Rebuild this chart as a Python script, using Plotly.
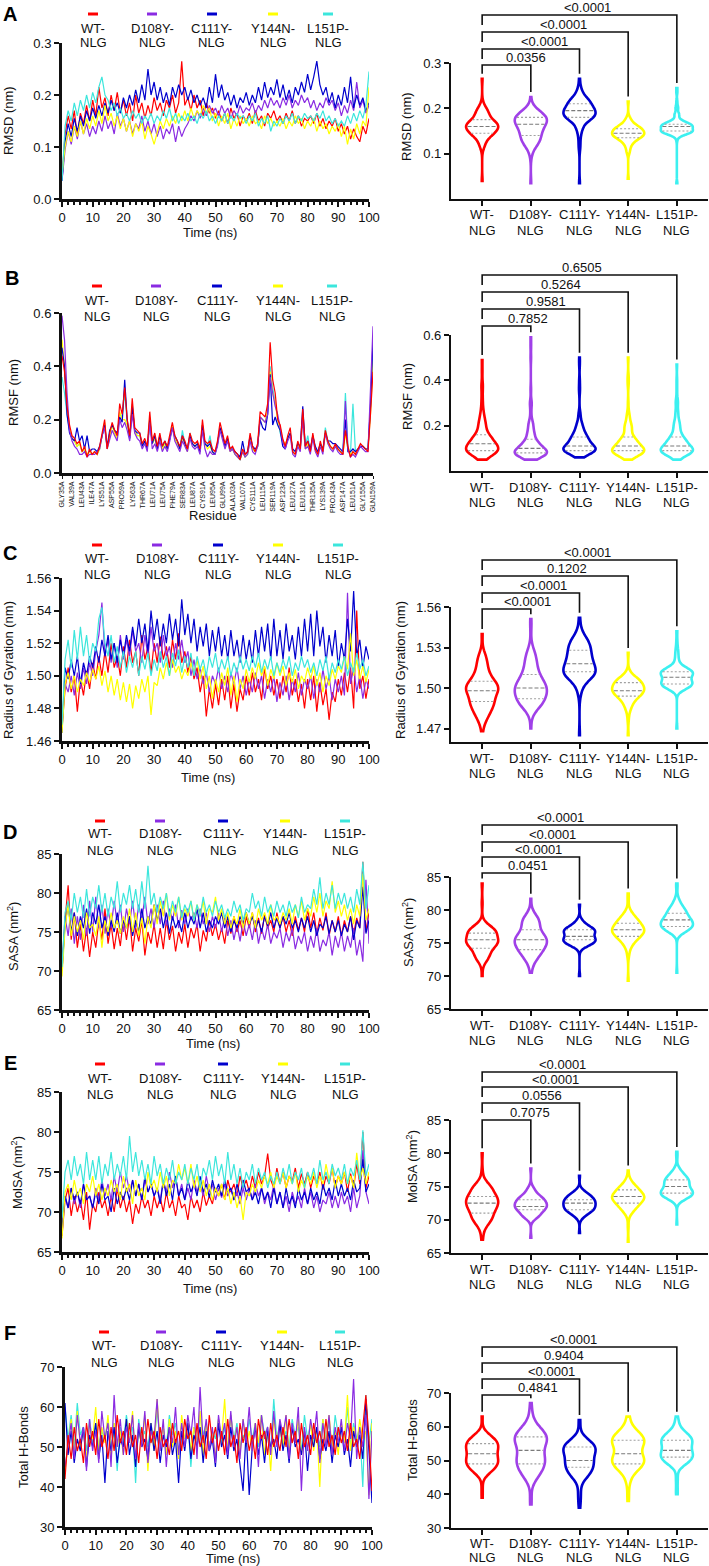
import numpy as np
import plotly.graph_objects as go

W, H = 709, 1566
FONT = "Liberation Sans, Arial, Helvetica, sans-serif"

groups = ["WT-NLG", "D108Y-NLG", "C111Y-NLG", "Y144N-NLG", "L151P-NLG"]
group_line1 = ["WT-", "D108Y-", "C111Y-", "Y144N-", "L151P-"]
group_line2 = ["NLG", "NLG", "NLG", "NLG", "NLG"]
line_colors = ["#FF0000", "#8A2BE2", "#0000CD", "#FFFF00", "#3CE6DC"]
violin_colors = ["#FF0000", "#A040E8", "#0000CD", "#FFFF00", "#3CF0F0"]

time_ns = list(range(0, 101))
residue_no = list(range(35, 160))
residue_tick_no = list(range(35, 160, 4))
residue_tick_labels = ["GLY35A", "VAL39A", "LEU43A", "ILE47A", "LYS51A", "ASP55A", "PRO59A", "LYS63A",
                       "THR67A", "LEU71A", "LEU75A", "PHE79A", "SER83A", "LEU87A", "CYS91A", "LEU95A",
                       "GLU99A", "ALA103A", "VAL107A", "CYS111A", "LEU115A", "SER119A", "ASP123A", "LEU127A",
                       "LEU131A", "THR135A", "LYS139A", "PRO143A", "ASP147A", "LEU151A", "GLY155A", "GLN159A"]

# ---------------- A: RMSD (nm) ----------------
rmsd_wt = [0.040,
    0.125, 0.160, 0.135, 0.170, 0.120, 0.165, 0.145, 0.180, 0.150, 0.190,
    0.160, 0.215, 0.175, 0.195, 0.160, 0.200, 0.170, 0.205, 0.165, 0.190,
    0.160, 0.185, 0.150, 0.200, 0.165, 0.185, 0.155, 0.180, 0.160, 0.195,
    0.170, 0.185, 0.160, 0.190, 0.175, 0.200, 0.165, 0.185, 0.265, 0.180,
    0.195, 0.170, 0.200, 0.175, 0.190, 0.160, 0.185, 0.165, 0.175, 0.155,
    0.170, 0.150, 0.165, 0.145, 0.175, 0.155, 0.165, 0.140, 0.160, 0.150,
    0.165, 0.145, 0.170, 0.150, 0.160, 0.140, 0.165, 0.155, 0.170, 0.150,
    0.160, 0.145, 0.165, 0.150, 0.170, 0.145, 0.160, 0.140, 0.155, 0.150,
    0.160, 0.145, 0.165, 0.140, 0.155, 0.135, 0.150, 0.140, 0.155, 0.130,
    0.145, 0.125, 0.140, 0.115, 0.135, 0.120, 0.110, 0.140, 0.125, 0.155]
rmsd_d108y = [0.035,
    0.095, 0.130, 0.105, 0.140, 0.115, 0.150, 0.125, 0.145, 0.120, 0.140,
    0.125, 0.150, 0.130, 0.160, 0.135, 0.150, 0.125, 0.165, 0.140, 0.155,
    0.130, 0.150, 0.125, 0.145, 0.135, 0.160, 0.130, 0.150, 0.125, 0.145,
    0.120, 0.140, 0.115, 0.135, 0.125, 0.145, 0.110, 0.140, 0.120, 0.135,
    0.145, 0.160, 0.150, 0.170, 0.155, 0.175, 0.160, 0.180, 0.165, 0.175,
    0.160, 0.180, 0.165, 0.175, 0.155, 0.170, 0.160, 0.180, 0.165, 0.175,
    0.170, 0.185, 0.165, 0.180, 0.170, 0.190, 0.175, 0.195, 0.180, 0.190,
    0.175, 0.195, 0.180, 0.200, 0.175, 0.190, 0.180, 0.200, 0.185, 0.195,
    0.175, 0.190, 0.170, 0.185, 0.175, 0.195, 0.180, 0.190, 0.170, 0.185,
    0.160, 0.180, 0.165, 0.190, 0.170, 0.225, 0.175, 0.190, 0.165, 0.180]
rmsd_c111y = [0.035,
    0.110, 0.145, 0.120, 0.155, 0.130, 0.160, 0.140, 0.170, 0.150, 0.175,
    0.155, 0.180, 0.160, 0.185, 0.165, 0.190, 0.170, 0.185, 0.165, 0.195,
    0.175, 0.200, 0.180, 0.210, 0.185, 0.220, 0.190, 0.250, 0.200, 0.225,
    0.190, 0.215, 0.185, 0.205, 0.180, 0.215, 0.195, 0.220, 0.200, 0.215,
    0.190, 0.210, 0.185, 0.200, 0.180, 0.195, 0.175, 0.215, 0.185, 0.240,
    0.195, 0.220, 0.190, 0.205, 0.180, 0.200, 0.175, 0.195, 0.185, 0.205,
    0.180, 0.200, 0.185, 0.215, 0.190, 0.225, 0.195, 0.215, 0.200, 0.230,
    0.195, 0.220, 0.190, 0.210, 0.185, 0.215, 0.200, 0.225, 0.205, 0.240,
    0.210, 0.235, 0.265, 0.220, 0.200, 0.215, 0.185, 0.205, 0.175, 0.200,
    0.180, 0.215, 0.185, 0.235, 0.175, 0.200, 0.180, 0.195, 0.170, 0.185]
rmsd_y144n = [0.045,
    0.100, 0.130, 0.110, 0.140, 0.120, 0.150, 0.125, 0.155, 0.135, 0.160,
    0.140, 0.170, 0.145, 0.180, 0.150, 0.165, 0.140, 0.160, 0.135, 0.155,
    0.130, 0.150, 0.120, 0.145, 0.130, 0.150, 0.115, 0.140, 0.125, 0.105,
    0.130, 0.150, 0.135, 0.155, 0.140, 0.160, 0.145, 0.165, 0.150, 0.170,
    0.150, 0.175, 0.155, 0.170, 0.160, 0.180, 0.165, 0.175, 0.150, 0.165,
    0.140, 0.160, 0.145, 0.165, 0.135, 0.155, 0.140, 0.160, 0.145, 0.155,
    0.140, 0.160, 0.145, 0.150, 0.135, 0.160, 0.145, 0.155, 0.140, 0.150,
    0.140, 0.155, 0.135, 0.150, 0.140, 0.160, 0.145, 0.155, 0.135, 0.150,
    0.140, 0.155, 0.130, 0.150, 0.135, 0.145, 0.125, 0.140, 0.130, 0.145,
    0.120, 0.140, 0.105, 0.135, 0.115, 0.145, 0.125, 0.150, 0.140, 0.215]
rmsd_l151p = [0.035,
    0.140, 0.170, 0.150, 0.185, 0.160, 0.190, 0.170, 0.200, 0.175, 0.205,
    0.185, 0.215, 0.235, 0.200, 0.190, 0.170, 0.185, 0.160, 0.175, 0.155,
    0.165, 0.150, 0.170, 0.155, 0.165, 0.145, 0.160, 0.150, 0.165, 0.145,
    0.160, 0.150, 0.170, 0.155, 0.175, 0.150, 0.165, 0.145, 0.160, 0.150,
    0.165, 0.150, 0.160, 0.145, 0.165, 0.155, 0.170, 0.150, 0.160, 0.145,
    0.160, 0.150, 0.165, 0.145, 0.160, 0.150, 0.165, 0.155, 0.160, 0.145,
    0.160, 0.150, 0.165, 0.140, 0.155, 0.145, 0.160, 0.130, 0.150, 0.140,
    0.155, 0.145, 0.160, 0.150, 0.165, 0.145, 0.160, 0.150, 0.165, 0.155,
    0.160, 0.150, 0.165, 0.155, 0.170, 0.150, 0.160, 0.145, 0.155, 0.140,
    0.150, 0.140, 0.160, 0.145, 0.165, 0.150, 0.170, 0.155, 0.180, 0.245]

# ---------------- B: RMSF (nm), residues 35-159 ----------------
rmsf_wt = [0.44, 0.38, 0.25, 0.18, 0.14, 0.13, 0.11, 0.12, 0.08, 0.10,
    0.06, 0.09, 0.07, 0.08, 0.07, 0.10, 0.15, 0.20, 0.09, 0.15,
    0.19, 0.16, 0.14, 0.26, 0.22, 0.32, 0.20, 0.14, 0.28, 0.17,
    0.16, 0.15, 0.11, 0.13, 0.10, 0.23, 0.12, 0.15, 0.10, 0.15,
    0.10, 0.12, 0.10, 0.14, 0.19, 0.14, 0.12, 0.10, 0.14, 0.12,
    0.09, 0.15, 0.12, 0.11, 0.12, 0.09, 0.20, 0.12, 0.11, 0.12,
    0.09, 0.08, 0.12, 0.19, 0.15, 0.11, 0.14, 0.09, 0.10, 0.08,
    0.07, 0.05, 0.09, 0.07, 0.08, 0.15, 0.10, 0.08, 0.11, 0.23,
    0.22, 0.21, 0.26, 0.49, 0.35, 0.30, 0.20, 0.18, 0.13, 0.10,
    0.14, 0.17, 0.08, 0.07, 0.12, 0.09, 0.24, 0.10, 0.12, 0.08,
    0.15, 0.09, 0.07, 0.12, 0.08, 0.16, 0.12, 0.10, 0.09, 0.11,
    0.09, 0.08, 0.07, 0.16, 0.10, 0.06, 0.08, 0.07, 0.09, 0.11,
    0.10, 0.09, 0.08, 0.22, 0.38]
rmsf_d108y = [0.59, 0.50, 0.30, 0.16, 0.12, 0.10, 0.09, 0.07, 0.07, 0.08,
    0.06, 0.07, 0.07, 0.07, 0.08, 0.09, 0.14, 0.17, 0.09, 0.13,
    0.16, 0.14, 0.12, 0.20, 0.17, 0.19, 0.16, 0.12, 0.22, 0.15,
    0.13, 0.12, 0.09, 0.11, 0.08, 0.19, 0.09, 0.11, 0.08, 0.12,
    0.08, 0.10, 0.08, 0.12, 0.17, 0.12, 0.10, 0.08, 0.12, 0.10,
    0.08, 0.13, 0.10, 0.09, 0.10, 0.07, 0.16, 0.09, 0.06, 0.08,
    0.07, 0.07, 0.10, 0.16, 0.12, 0.09, 0.12, 0.08, 0.09, 0.07,
    0.06, 0.05, 0.08, 0.06, 0.07, 0.12, 0.08, 0.07, 0.10, 0.21,
    0.20, 0.19, 0.22, 0.36, 0.30, 0.25, 0.22, 0.17, 0.12, 0.09,
    0.12, 0.14, 0.07, 0.06, 0.10, 0.08, 0.20, 0.09, 0.10, 0.07,
    0.13, 0.08, 0.06, 0.10, 0.07, 0.15, 0.11, 0.09, 0.08, 0.10,
    0.08, 0.07, 0.07, 0.27, 0.09, 0.06, 0.07, 0.06, 0.08, 0.10,
    0.09, 0.08, 0.08, 0.30, 0.55]
rmsf_c111y = [0.47, 0.40, 0.22, 0.15, 0.13, 0.12, 0.17, 0.12, 0.14, 0.09,
    0.14, 0.08, 0.09, 0.09, 0.08, 0.10, 0.14, 0.18, 0.10, 0.16,
    0.18, 0.16, 0.15, 0.21, 0.19, 0.35, 0.20, 0.13, 0.25, 0.16,
    0.15, 0.15, 0.10, 0.12, 0.09, 0.20, 0.11, 0.14, 0.09, 0.14,
    0.10, 0.12, 0.09, 0.13, 0.17, 0.14, 0.12, 0.09, 0.14, 0.11,
    0.09, 0.14, 0.11, 0.10, 0.11, 0.08, 0.18, 0.11, 0.10, 0.11,
    0.08, 0.07, 0.11, 0.17, 0.14, 0.10, 0.13, 0.09, 0.09, 0.08,
    0.07, 0.06, 0.12, 0.07, 0.08, 0.14, 0.10, 0.09, 0.10, 0.20,
    0.17, 0.16, 0.22, 0.37, 0.18, 0.21, 0.18, 0.16, 0.10, 0.09,
    0.13, 0.15, 0.09, 0.08, 0.11, 0.10, 0.25, 0.10, 0.12, 0.09,
    0.14, 0.10, 0.08, 0.11, 0.09, 0.15, 0.12, 0.12, 0.11, 0.11,
    0.10, 0.09, 0.08, 0.20, 0.08, 0.08, 0.09, 0.08, 0.09, 0.10,
    0.10, 0.09, 0.09, 0.25, 0.50]
rmsf_y144n = [0.50, 0.40, 0.24, 0.17, 0.13, 0.12, 0.10, 0.11, 0.08, 0.09,
    0.07, 0.08, 0.07, 0.08, 0.07, 0.09, 0.14, 0.19, 0.09, 0.14,
    0.18, 0.15, 0.13, 0.23, 0.20, 0.20, 0.18, 0.13, 0.25, 0.16,
    0.14, 0.14, 0.10, 0.12, 0.09, 0.21, 0.11, 0.13, 0.09, 0.13,
    0.09, 0.11, 0.09, 0.13, 0.18, 0.13, 0.11, 0.09, 0.13, 0.11,
    0.08, 0.14, 0.11, 0.10, 0.11, 0.08, 0.18, 0.11, 0.09, 0.10,
    0.08, 0.07, 0.11, 0.17, 0.14, 0.10, 0.13, 0.08, 0.09, 0.07,
    0.06, 0.05, 0.08, 0.06, 0.07, 0.13, 0.09, 0.08, 0.10, 0.21,
    0.20, 0.19, 0.24, 0.38, 0.30, 0.26, 0.20, 0.16, 0.12, 0.11,
    0.13, 0.15, 0.08, 0.07, 0.11, 0.09, 0.20, 0.09, 0.11, 0.08,
    0.14, 0.09, 0.07, 0.11, 0.08, 0.15, 0.11, 0.10, 0.09, 0.10,
    0.09, 0.08, 0.07, 0.15, 0.09, 0.07, 0.08, 0.07, 0.09, 0.10,
    0.10, 0.09, 0.09, 0.22, 0.42]
rmsf_l151p = [0.36, 0.30, 0.22, 0.16, 0.13, 0.12, 0.10, 0.11, 0.08, 0.09,
    0.07, 0.08, 0.07, 0.08, 0.07, 0.09, 0.14, 0.18, 0.09, 0.14,
    0.18, 0.15, 0.13, 0.22, 0.21, 0.30, 0.19, 0.13, 0.26, 0.16,
    0.14, 0.14, 0.10, 0.12, 0.09, 0.20, 0.11, 0.13, 0.10, 0.13,
    0.09, 0.12, 0.09, 0.13, 0.17, 0.13, 0.11, 0.09, 0.16, 0.11,
    0.09, 0.15, 0.11, 0.10, 0.11, 0.08, 0.18, 0.11, 0.10, 0.14,
    0.08, 0.07, 0.11, 0.17, 0.14, 0.10, 0.13, 0.09, 0.09, 0.07,
    0.06, 0.05, 0.08, 0.06, 0.07, 0.13, 0.09, 0.08, 0.10, 0.21,
    0.20, 0.19, 0.23, 0.40, 0.32, 0.26, 0.20, 0.15, 0.12, 0.10,
    0.13, 0.15, 0.08, 0.07, 0.11, 0.09, 0.22, 0.10, 0.14, 0.08,
    0.14, 0.09, 0.07, 0.11, 0.08, 0.17, 0.12, 0.10, 0.09, 0.10,
    0.09, 0.08, 0.08, 0.30, 0.10, 0.07, 0.26, 0.08, 0.09, 0.10,
    0.10, 0.09, 0.09, 0.25, 0.47]

# ---------------- C: Radius of gyration (nm) ----------------
rg_wt = [1.468,
    1.492, 1.505, 1.490, 1.500, 1.478, 1.498, 1.488, 1.503, 1.492, 1.508,
    1.498, 1.512, 1.500, 1.515, 1.502, 1.520, 1.505, 1.512, 1.500, 1.518,
    1.505, 1.522, 1.508, 1.515, 1.500, 1.525, 1.510, 1.518, 1.502, 1.520,
    1.508, 1.524, 1.510, 1.518, 1.505, 1.522, 1.510, 1.526, 1.508, 1.515,
    1.502, 1.512, 1.498, 1.505, 1.490, 1.500, 1.475, 1.492, 1.480, 1.495,
    1.482, 1.498, 1.485, 1.500, 1.480, 1.495, 1.478, 1.492, 1.485, 1.500,
    1.488, 1.502, 1.490, 1.498, 1.485, 1.505, 1.492, 1.500, 1.488, 1.498,
    1.486, 1.500, 1.490, 1.505, 1.488, 1.498, 1.484, 1.495, 1.480, 1.498,
    1.485, 1.500, 1.478, 1.496, 1.482, 1.492, 1.473, 1.490, 1.484, 1.498,
    1.488, 1.502, 1.490, 1.505, 1.480, 1.540, 1.492, 1.500, 1.486, 1.498]
rg_d108y = [1.470,
    1.495, 1.490, 1.500, 1.488, 1.502, 1.492, 1.505, 1.495, 1.508, 1.500,
    1.515, 1.525, 1.545, 1.512, 1.522, 1.508, 1.520, 1.505, 1.525, 1.510,
    1.522, 1.512, 1.528, 1.515, 1.520, 1.508, 1.525, 1.512, 1.530, 1.515,
    1.520, 1.508, 1.525, 1.512, 1.518, 1.505, 1.520, 1.510, 1.522, 1.508,
    1.515, 1.500, 1.510, 1.498, 1.505, 1.495, 1.502, 1.490, 1.500, 1.495,
    1.505, 1.492, 1.500, 1.490, 1.502, 1.495, 1.505, 1.492, 1.500, 1.488,
    1.498, 1.490, 1.502, 1.492, 1.500, 1.486, 1.498, 1.490, 1.500, 1.484,
    1.496, 1.488, 1.500, 1.485, 1.498, 1.490, 1.502, 1.488, 1.498, 1.492,
    1.500, 1.486, 1.498, 1.490, 1.504, 1.492, 1.500, 1.485, 1.498, 1.490,
    1.500, 1.488, 1.551, 1.495, 1.505, 1.490, 1.500, 1.486, 1.498, 1.492]
rg_c111y = [1.465,
    1.505, 1.498, 1.510, 1.500, 1.512, 1.495, 1.508, 1.500, 1.512, 1.505,
    1.518, 1.508, 1.522, 1.512, 1.525, 1.510, 1.520, 1.508, 1.522, 1.512,
    1.525, 1.515, 1.530, 1.518, 1.535, 1.520, 1.532, 1.515, 1.540, 1.522,
    1.535, 1.518, 1.532, 1.520, 1.538, 1.522, 1.535, 1.518, 1.547, 1.525,
    1.538, 1.520, 1.535, 1.515, 1.530, 1.518, 1.532, 1.512, 1.528, 1.515,
    1.530, 1.512, 1.525, 1.510, 1.528, 1.512, 1.522, 1.508, 1.525, 1.510,
    1.522, 1.508, 1.528, 1.512, 1.530, 1.515, 1.532, 1.510, 1.535, 1.512,
    1.528, 1.510, 1.532, 1.515, 1.525, 1.510, 1.530, 1.512, 1.535, 1.515,
    1.538, 1.512, 1.540, 1.518, 1.530, 1.508, 1.525, 1.512, 1.528, 1.505,
    1.520, 1.510, 1.535, 1.515, 1.552, 1.512, 1.522, 1.505, 1.518, 1.510]
rg_y144n = [1.465,
    1.495, 1.502, 1.492, 1.500, 1.490, 1.498, 1.494, 1.502, 1.496, 1.504,
    1.498, 1.506, 1.494, 1.503, 1.490, 1.500, 1.488, 1.498, 1.485, 1.496,
    1.484, 1.495, 1.480, 1.494, 1.486, 1.498, 1.490, 1.500, 1.476, 1.496,
    1.494, 1.505, 1.498, 1.508, 1.500, 1.510, 1.502, 1.506, 1.498, 1.504,
    1.500, 1.508, 1.502, 1.510, 1.498, 1.506, 1.492, 1.500, 1.486, 1.498,
    1.490, 1.502, 1.494, 1.505, 1.488, 1.500, 1.484, 1.498, 1.492, 1.504,
    1.496, 1.505, 1.498, 1.508, 1.500, 1.506, 1.494, 1.504, 1.498, 1.508,
    1.500, 1.506, 1.494, 1.502, 1.496, 1.504, 1.492, 1.500, 1.496, 1.505,
    1.498, 1.506, 1.494, 1.502, 1.490, 1.500, 1.494, 1.504, 1.498, 1.506,
    1.502, 1.512, 1.504, 1.526, 1.500, 1.510, 1.498, 1.506, 1.496, 1.504]
rg_l151p = [1.470,
    1.510, 1.522, 1.505, 1.528, 1.510, 1.530, 1.512, 1.525, 1.508, 1.520,
    1.515, 1.535, 1.542, 1.520, 1.512, 1.525, 1.508, 1.518, 1.505, 1.515,
    1.502, 1.512, 1.505, 1.515, 1.500, 1.512, 1.504, 1.514, 1.500, 1.510,
    1.503, 1.515, 1.505, 1.512, 1.500, 1.514, 1.506, 1.516, 1.502, 1.512,
    1.505, 1.514, 1.500, 1.512, 1.504, 1.510, 1.500, 1.512, 1.505, 1.514,
    1.502, 1.510, 1.504, 1.512, 1.500, 1.508, 1.502, 1.512, 1.504, 1.510,
    1.503, 1.512, 1.505, 1.514, 1.502, 1.510, 1.504, 1.512, 1.500, 1.508,
    1.502, 1.510, 1.504, 1.512, 1.500, 1.508, 1.503, 1.512, 1.505, 1.510,
    1.502, 1.508, 1.500, 1.510, 1.503, 1.512, 1.498, 1.508, 1.502, 1.510,
    1.504, 1.512, 1.500, 1.508, 1.502, 1.514, 1.504, 1.510, 1.500, 1.506]

# ---------------- D: SASA (nm^2) ----------------
sasa_wt = [70.0,
    76.5, 81.0, 74.0, 77.5, 73.0, 76.0, 72.5, 75.5, 71.8, 75.0,
    73.0, 76.5, 74.0, 78.0, 73.5, 76.0, 72.8, 75.5, 73.2, 76.8,
    74.0, 77.0, 72.5, 75.5, 73.8, 76.5, 72.0, 75.0, 73.5, 76.0,
    73.0, 75.5, 72.8, 76.5, 74.0, 75.8, 72.5, 75.0, 73.5, 76.0,
    73.0, 75.5, 74.2, 76.0, 72.5, 75.2, 73.8, 76.5, 74.5, 76.0,
    74.0, 75.5, 73.5, 76.5, 74.8, 77.0, 75.0, 76.5, 74.5, 77.0,
    75.5, 77.5, 75.0, 76.8, 74.8, 77.2, 75.5, 76.5, 75.0, 77.5,
    75.5, 77.0, 75.0, 76.5, 74.5, 77.0, 75.2, 76.8, 75.0, 78.0,
    75.5, 77.5, 74.8, 76.8, 75.2, 77.5, 74.5, 76.5, 75.0, 77.0,
    74.5, 76.5, 75.0, 77.0, 74.8, 76.8, 75.5, 84.0, 75.0, 77.5]
sasa_d108y = [70.5,
    77.0, 74.5, 78.0, 73.5, 77.0, 74.0, 78.5, 74.5, 79.0, 75.0,
    79.5, 75.5, 78.5, 74.8, 78.0, 75.5, 79.0, 76.0, 78.5, 75.0,
    78.0, 76.0, 79.0, 75.5, 78.5, 76.5, 79.5, 76.0, 78.0, 75.5,
    78.5, 76.0, 79.0, 75.8, 78.0, 76.5, 78.5, 75.5, 77.8, 76.0,
    78.0, 76.5, 77.5, 75.5, 78.0, 76.0, 77.5, 75.0, 77.0, 75.5,
    77.5, 75.0, 77.0, 74.5, 76.5, 74.0, 76.0, 73.8, 76.5, 74.5,
    76.0, 74.0, 76.5, 73.5, 75.5, 74.0, 76.0, 73.5, 75.0, 74.2,
    75.5, 73.0, 75.0, 73.8, 75.5, 72.8, 74.5, 73.5, 75.0, 72.5,
    74.5, 73.0, 75.5, 72.5, 74.0, 73.2, 75.0, 72.0, 74.5, 73.0,
    75.0, 72.5, 74.5, 73.0, 75.5, 72.0, 74.0, 71.2, 81.7, 73.5]
sasa_c111y = [70.0,
    76.0, 78.5, 75.0, 77.5, 74.5, 77.0, 75.5, 78.0, 74.8, 77.5,
    76.0, 78.5, 75.5, 77.0, 74.5, 76.5, 75.0, 77.5, 74.8, 76.5,
    75.5, 77.0, 74.5, 76.5, 75.0, 78.0, 75.5, 77.0, 76.0, 78.5,
    76.5, 78.0, 75.5, 77.5, 74.8, 77.0, 75.5, 76.5, 75.0, 77.5,
    75.5, 77.0, 76.0, 78.0, 75.5, 77.5, 75.0, 76.5, 75.5, 77.0,
    76.0, 77.5, 75.5, 77.0, 75.0, 76.5, 75.5, 77.0, 76.0, 77.5,
    76.0, 77.0, 75.5, 76.5, 75.0, 77.0, 75.8, 77.5, 75.5, 76.8,
    75.5, 77.0, 76.0, 77.5, 75.5, 76.5, 75.0, 76.8, 75.5, 77.0,
    75.0, 76.5, 74.5, 76.0, 75.5, 77.0, 74.8, 76.5, 75.0, 76.5,
    74.5, 76.0, 75.0, 77.0, 74.0, 76.5, 75.5, 80.8, 74.8, 76.5]
sasa_y144n = [69.3,
    75.5, 78.5, 74.5, 77.0, 75.0, 76.5, 74.0, 77.5, 75.5, 76.0,
    74.5, 77.0, 73.0, 76.5, 75.0, 77.5, 75.5, 76.5, 74.8, 77.0,
    75.5, 78.0, 75.0, 77.5, 74.5, 76.8, 73.5, 77.0, 75.5, 78.5,
    76.0, 79.0, 77.0, 80.0, 76.5, 78.5, 77.0, 79.5, 76.5, 78.0,
    77.0, 79.0, 76.5, 78.5, 77.0, 79.0, 76.0, 78.0, 77.5, 79.5,
    76.5, 78.0, 76.0, 77.5, 75.5, 77.0, 76.0, 78.0, 75.5, 77.5,
    76.0, 77.5, 75.5, 78.0, 76.5, 77.5, 76.0, 78.5, 76.5, 77.0,
    76.0, 77.5, 76.5, 78.0, 76.0, 78.5, 77.0, 79.0, 76.5, 78.0,
    77.0, 79.5, 77.5, 80.0, 77.0, 79.0, 78.0, 81.5, 77.5, 79.0,
    77.0, 78.5, 76.5, 78.0, 76.0, 78.5, 77.0, 82.5, 76.5, 78.0]
sasa_l151p = [70.5,
    77.5, 79.0, 76.5, 80.0, 77.5, 79.5, 76.8, 80.5, 77.0, 79.5,
    78.0, 81.0, 77.5, 80.0, 77.0, 79.5, 78.0, 81.5, 77.5, 80.0,
    78.5, 81.0, 78.0, 80.5, 77.5, 81.5, 78.0, 83.5, 78.5, 80.0,
    77.5, 79.5, 78.0, 80.0, 77.0, 79.0, 77.5, 79.5, 76.8, 78.5,
    77.5, 79.0, 76.5, 78.5, 77.0, 79.5, 77.5, 78.5, 77.0, 79.0,
    77.5, 78.5, 76.8, 78.0, 77.0, 79.0, 77.5, 78.5, 76.5, 78.0,
    77.5, 80.0, 78.0, 79.0, 77.0, 79.5, 77.5, 78.5, 77.0, 79.0,
    77.5, 78.5, 77.0, 79.0, 77.5, 78.5, 76.8, 79.5, 77.5, 78.5,
    78.0, 80.5, 78.5, 82.0, 78.0, 80.0, 78.5, 81.0, 78.0, 80.0,
    78.5, 80.0, 78.0, 79.5, 77.5, 80.5, 78.5, 84.0, 78.0, 81.0]

# ---------------- E: MolSA (nm^2) ----------------
molsa_wt = [67.0,
    71.5, 73.0, 69.5, 72.0, 70.0, 71.5, 69.0, 72.5, 67.8, 71.0,
    70.0, 72.5, 70.5, 71.5, 69.5, 72.0, 70.0, 73.0, 70.5, 72.0,
    70.0, 71.5, 68.5, 71.0, 69.8, 72.0, 70.5, 71.5, 69.5, 72.0,
    70.5, 71.8, 70.0, 72.5, 70.5, 71.5, 69.5, 72.0, 70.5, 71.0,
    69.0, 72.0, 70.5, 71.5, 70.0, 72.5, 70.8, 72.0, 71.0, 73.0,
    72.0, 73.5, 71.5, 74.0, 72.5, 73.5, 72.0, 74.5, 73.0, 74.0,
    72.5, 74.5, 73.0, 75.0, 73.5, 74.5, 77.3, 74.0, 73.0, 75.5,
    73.5, 75.0, 73.0, 74.5, 73.8, 75.5, 73.0, 74.8, 73.5, 75.0,
    73.0, 74.5, 73.5, 75.0, 72.8, 74.5, 73.5, 75.5, 73.0, 74.5,
    73.5, 75.0, 72.5, 74.8, 73.0, 76.0, 73.5, 80.0, 73.0, 74.5]
molsa_d108y = [67.3,
    72.0, 70.5, 73.0, 71.0, 72.5, 70.5, 73.5, 71.5, 72.0, 70.5,
    73.0, 71.5, 74.0, 72.0, 73.5, 71.5, 74.5, 72.5, 75.0, 73.0,
    74.5, 72.5, 74.0, 72.0, 73.5, 71.5, 74.0, 72.5, 73.5, 72.0,
    73.0, 71.5, 74.0, 72.5, 75.0, 73.0, 74.5, 72.0, 73.5, 71.5,
    73.0, 71.5, 74.0, 72.5, 73.5, 72.0, 74.5, 72.5, 73.5, 71.5,
    73.0, 71.8, 73.5, 72.0, 73.0, 71.5, 72.5, 71.0, 73.0, 71.5,
    73.0, 71.5, 73.5, 72.0, 73.0, 71.0, 72.5, 71.5, 73.5, 71.0,
    72.5, 70.5, 72.0, 70.0, 72.5, 71.0, 72.0, 70.5, 73.0, 71.0,
    72.5, 70.5, 72.0, 70.0, 71.5, 71.0, 72.5, 70.5, 72.0, 70.5,
    72.5, 71.0, 72.0, 70.0, 73.0, 70.5, 72.0, 77.7, 72.5, 71.0]
molsa_c111y = [68.0,
    72.0, 70.5, 73.0, 71.5, 72.5, 71.0, 73.5, 71.5, 72.0, 70.5,
    72.5, 71.0, 73.5, 71.5, 72.0, 70.0, 73.0, 71.0, 72.5, 71.5,
    73.0, 71.5, 74.0, 72.0, 73.5, 71.5, 74.5, 72.5, 73.5, 72.0,
    73.0, 71.0, 74.0, 72.0, 73.5, 71.5, 74.5, 72.0, 73.0, 71.5,
    74.0, 72.5, 73.5, 72.0, 74.5, 72.5, 73.5, 71.8, 74.0, 72.5,
    73.5, 72.0, 74.0, 72.5, 73.0, 71.5, 73.5, 72.0, 74.0, 72.5,
    73.0, 71.5, 72.5, 71.0, 73.0, 71.5, 72.5, 70.5, 73.0, 71.0,
    72.5, 70.5, 73.0, 71.0, 72.0, 70.5, 73.0, 71.5, 72.5, 71.0,
    73.0, 71.5, 72.5, 71.0, 73.5, 72.0, 73.0, 71.5, 74.0, 72.0,
    73.5, 72.0, 73.0, 71.5, 74.0, 72.5, 73.0, 76.6, 72.5, 73.5]
molsa_y144n = [66.7,
    72.5, 73.5, 71.5, 74.0, 72.0, 73.0, 71.0, 73.5, 72.5, 74.5,
    72.0, 73.5, 71.5, 73.0, 72.0, 74.0, 72.5, 73.5, 71.5, 74.5,
    72.5, 73.5, 71.0, 74.0, 72.0, 73.0, 71.5, 75.0, 73.0, 74.0,
    72.5, 75.0, 73.0, 74.5, 72.0, 74.0, 73.5, 76.0, 74.0, 75.5,
    73.5, 76.0, 73.0, 74.5, 72.5, 74.0, 72.0, 73.5, 71.5, 73.0,
    72.0, 73.5, 71.5, 73.0, 71.0, 72.5, 70.5, 72.0, 69.0, 72.5,
    72.0, 73.5, 72.5, 74.0, 73.0, 74.5, 73.5, 75.0, 73.0, 74.5,
    73.5, 75.0, 73.0, 74.5, 73.5, 75.0, 72.5, 74.0, 73.0, 74.5,
    73.5, 75.0, 73.0, 74.5, 73.5, 76.0, 74.0, 75.5, 73.0, 74.5,
    73.5, 75.0, 73.5, 74.5, 73.0, 77.4, 74.0, 75.5, 73.5, 75.0]
molsa_l151p = [69.3,
    75.0, 76.5, 74.0, 77.0, 74.5, 76.0, 73.5, 77.5, 74.0, 76.5,
    74.0, 77.0, 73.5, 76.0, 74.5, 77.5, 74.0, 76.0, 74.5, 77.0,
    74.0, 79.5, 75.0, 77.5, 74.5, 76.5, 74.0, 76.0, 73.5, 77.0,
    74.5, 76.0, 73.5, 75.5, 74.0, 76.5, 73.5, 75.0, 74.0, 76.0,
    73.5, 75.5, 74.0, 76.0, 73.0, 75.5, 74.5, 76.5, 74.0, 77.0,
    74.5, 76.0, 73.5, 77.5, 74.0, 76.0, 73.5, 75.5, 73.0, 75.0,
    74.0, 76.0, 73.5, 75.5, 74.0, 75.0, 73.0, 74.5, 73.5, 75.0,
    73.5, 75.5, 74.0, 76.0, 73.5, 75.0, 74.0, 75.5, 73.0, 75.0,
    74.0, 75.5, 73.5, 76.5, 74.0, 75.0, 73.5, 76.0, 74.5, 75.5,
    74.0, 76.0, 73.5, 75.5, 74.5, 76.5, 74.0, 80.2, 74.5, 76.0]

# ---------------- F: Total H-bonds ----------------
hb_wt = [42,
    53, 47, 55, 49, 52, 46, 56, 50, 54, 48,
    57, 50, 53, 47, 55, 49, 58, 51, 54, 48,
    56, 50, 53, 46, 55, 49, 57, 51, 54, 47,
    55, 50, 52, 48, 56, 51, 54, 49, 57, 52,
    54, 48, 56, 50, 53, 47, 58, 51, 55, 49,
    54, 48, 57, 50, 53, 46, 56, 51, 55, 49,
    53, 47, 57, 52, 54, 48, 56, 50, 53, 49,
    55, 50, 57, 51, 54, 47, 56, 50, 53, 48,
    56, 51, 54, 49, 57, 50, 53, 48, 55, 51,
    54, 49, 56, 50, 52, 47, 55, 63, 52, 39]
hb_d108y = [45,
    50, 56, 47, 58, 51, 55, 44, 57, 49, 54,
    46, 59, 52, 56, 45, 63, 50, 57, 48, 55,
    51, 58, 47, 56, 50, 59, 46, 54, 52, 62,
    49, 57, 45, 55, 51, 60, 48, 56, 50, 58,
    53, 60, 47, 65, 51, 57, 49, 55, 46, 58,
    52, 56, 48, 59, 50, 55, 47, 57, 51, 60,
    49, 56, 45, 58, 52, 55, 48, 59, 50, 57,
    53, 58, 47, 56, 51, 60, 39, 55, 49, 57,
    52, 59, 46, 56, 50, 58, 48, 55, 51, 57,
    49, 56, 52, 67, 47, 55, 50, 58, 37, 54]
hb_c111y = [61,
    48, 54, 46, 52, 49, 55, 45, 53, 50, 56,
    47, 53, 41, 54, 49, 55, 46, 52, 50, 57,
    48, 53, 45, 55, 50, 52, 47, 56, 49, 54,
    46, 53, 50, 55, 48, 52, 41, 54, 49, 56,
    47, 53, 50, 55, 46, 54, 49, 52, 45, 56,
    50, 53, 47, 55, 49, 52, 46, 39, 54, 38,
    50, 55, 48, 53, 46, 54, 50, 52, 47, 56,
    49, 53, 46, 55, 50, 52, 48, 54, 44, 53,
    50, 55, 47, 52, 49, 54, 46, 53, 50, 55,
    48, 52, 45, 54, 50, 53, 47, 62, 49, 36]
hb_y144n = [44,
    51, 57, 48, 59, 50, 54, 47, 56, 52, 60,
    49, 55, 51, 58, 47, 56, 50, 54, 48, 57,
    51, 59, 46, 55, 50, 58, 44, 56, 49, 62,
    51, 55, 48, 57, 50, 54, 47, 58, 52, 56,
    49, 55, 51, 59, 48, 56, 50, 54, 47, 57,
    52, 62, 49, 58, 51, 55, 48, 57, 50, 54,
    49, 56, 51, 58, 48, 54, 44, 57, 52, 55,
    50, 58, 49, 55, 51, 57, 48, 54, 50, 56,
    49, 55, 40, 57, 51, 58, 50, 54, 48, 56,
    51, 63, 49, 55, 50, 57, 52, 54, 38, 56]
hb_l151p = [60,
    52, 58, 50, 61, 53, 55, 49, 57, 51, 56,
    50, 54, 52, 57, 49, 56, 44, 55, 51, 58,
    53, 55, 41, 57, 52, 54, 50, 56, 51, 59,
    52, 55, 50, 58, 53, 56, 49, 54, 52, 57,
    45, 55, 51, 58, 53, 56, 50, 54, 52, 57,
    51, 55, 49, 58, 52, 56, 50, 53, 51, 57,
    52, 56, 50, 58, 53, 55, 49, 62, 52, 56,
    51, 54, 50, 57, 53, 55, 49, 58, 52, 56,
    51, 55, 50, 57, 52, 56, 49, 58, 53, 55,
    51, 60, 50, 56, 52, 55, 40, 63, 51, 57]

# p-values (WT vs. each mutant)
p_rmsd = ["0.0356", "<0.0001", "<0.0001", "<0.0001"]
p_rmsf = ["0.7852", "0.9581", "0.5264", "0.6505"]
p_rg = ["<0.0001", "<0.0001", "0.1202", "<0.0001"]
p_sasa = ["0.0451", "<0.0001", "<0.0001", "<0.0001"]
p_molsa = ["0.7075", "0.0556", "<0.0001", "<0.0001"]
p_hb = ["0.4841", "<0.0001", "0.9404", "<0.0001"]

panel_series = [
    [rmsd_wt, rmsd_d108y, rmsd_c111y, rmsd_y144n, rmsd_l151p],
    [rmsf_wt, rmsf_d108y, rmsf_c111y, rmsf_y144n, rmsf_l151p],
    [rg_wt, rg_d108y, rg_c111y, rg_y144n, rg_l151p],
    [sasa_wt, sasa_d108y, sasa_c111y, sasa_y144n, sasa_l151p],
    [molsa_wt, molsa_d108y, molsa_c111y, molsa_y144n, molsa_l151p],
    [hb_wt, hb_d108y, hb_c111y, hb_y144n, hb_l151p],
]
panel_x = [time_ns, residue_no, time_ns, time_ns, time_ns, time_ns]
panel_p = [p_rmsd, p_rmsf, p_rg, p_sasa, p_molsa, p_hb]

# ---------------- layout (pixel positions) ----------------
cfgs = [
    dict(letter="A", letter_xy=(10, 14), lx=(62, 369), ly=(43, 199), lrange=[0, 0.3], ldtick=0.1, lfmt=".1f",
         ry=(63, 199), rrange=[0, 0.3], rticks=[0.1, 0.2, 0.3], rfmt=".1f",
         levels=[65, 49, 32, 15], label_x=[0.90, 1.29, 1.68, 2.17], cat_dy=(16, 31),
         leg_line_y=14, leg_text_y=(28, 43), leg_x=[93, 152, 212, 273, 328],
         xtitle="Time (ns)", xtitle_xy=(210, 232), ytitle="RMSD (nm)", yt_l=(8, 121), yt_r=(407, 127),
         order=[0, 1, 2, 3, 4]),
    dict(letter="B", letter_xy=(12, 278), lx=(62, 373), ly=(313, 473), lrange=[0, 0.6], ldtick=0.2, lfmt=".1f",
         ry=(335, 471), rrange=[0, 0.6], rticks=[0.2, 0.4, 0.6], rfmt=".1f",
         levels=[326, 309, 292, 275], label_x=[0.94, 1.31, 1.62, 2.05], cat_dy=(16, 32),
         leg_line_y=286, leg_text_y=(300, 316), leg_x=[97, 156, 217, 278, 332],
         xtitle="Residue", xtitle_xy=(213, 515), ytitle="RMSF (nm)", yt_l=(13, 393), yt_r=(407, 397),
         order=[4, 3, 2, 1, 0]),
    dict(letter="C", letter_xy=(10, 553), lx=(62, 369), ly=(578, 741), lrange=[1.46, 1.56], ldtick=0.02, lfmt=".2f",
         ry=(607, 742), rrange=[1.46, 1.56], rticks=[1.47, 1.50, 1.53, 1.56], rfmt=".2f",
         levels=[609, 593, 576, 560], label_x=[0.94, 1.27, 1.74, 2.17], cat_dy=(16, 32),
         leg_line_y=545, leg_text_y=(558, 574), leg_x=[97, 157, 218, 278, 338],
         xtitle="Time (ns)", xtitle_xy=(208, 777), ytitle="Radius of Gyration (nm)", yt_l=(8, 670), yt_r=(400, 670),
         order=[0, 1, 2, 3, 4]),
    dict(letter="D", letter_xy=(10, 832), lx=(62, 369), ly=(854, 1010), lrange=[65, 85], ldtick=5, lfmt="d",
         ry=(877, 1009), rrange=[65, 85], rticks=[65, 70, 75, 80, 85], rfmt="d",
         levels=[873, 857, 842, 825], label_x=[0.94, 1.15, 1.44, 1.60], cat_dy=(16, 31),
         leg_line_y=821, leg_text_y=(833, 850), leg_x=[100, 160, 223, 285, 345],
         xtitle="Time (ns)", xtitle_xy=(213, 1043), ytitle="SASA (nm<sup>2</sup>)", yt_l=(13, 937), yt_r=(408, 933),
         order=[0, 1, 2, 3, 4]),
    dict(letter="E", letter_xy=(10, 1063), lx=(62, 369), ly=(1092, 1252), lrange=[65, 85], ldtick=5, lfmt="d",
         ry=(1120, 1253), rrange=[65, 85], rticks=[65, 70, 75, 80, 85], rfmt="d",
         levels=[1120, 1103, 1087, 1072], label_x=[0.98, 1.23, 1.50, 1.66], cat_dy=(16, 31),
         leg_line_y=1064, leg_text_y=(1078, 1094), leg_x=[100, 160, 223, 283, 345],
         xtitle="Time (ns)", xtitle_xy=(210, 1288), ytitle="MolSA (nm<sup>2</sup>)", yt_l=(17, 1173), yt_r=(412, 1167),
         order=[0, 1, 2, 3, 4]),
    dict(letter="F", letter_xy=(10, 1333), lx=(65, 372), ly=(1367, 1527), lrange=[30, 70], ldtick=10, lfmt="d",
         ry=(1393, 1528), rrange=[30, 70], rticks=[30, 40, 50, 60, 70], rfmt="d",
         levels=[1395, 1379, 1363, 1347], label_x=[1.15, 1.42, 1.68, 1.87], cat_dy=(15, 29),
         leg_line_y=1332, leg_text_y=(1345, 1362), leg_x=[104, 161, 221, 282, 340],
         xtitle="Time (ns)", xtitle_xy=(233, 1558), ytitle="Total H-Bonds", yt_l=(23, 1447), yt_r=(412, 1440),
         order=[4, 3, 2, 1, 0]),
]

RX = (451, 708)
XR_RANGE = [-0.64, 4.64]
VW = 0.66
FS = 13  # main text size


def fx(px):
    return px / W


def fy(px):
    return 1 - px / H


def ydom(top, bot):
    return [max(0.0, 1 - bot / H), min(1.0, 1 - top / H)]


def silverman(v):
    sd = np.std(v, ddof=1)
    q1, q3 = np.percentile(v, [25, 75])
    a = min(sd, (q3 - q1) / 1.349)
    if a <= 0:
        a = sd
    return 1.059 * a * len(v) ** -0.2


def kde(v, t, bw):
    z = (np.asarray(t, float)[:, None] - v[None, :]) / bw
    return np.exp(-0.5 * z * z).sum(axis=1) / (len(v) * bw * np.sqrt(2 * np.pi))


def sfx(n):
    return "" if n == 1 else str(n)


fig = go.Figure()
ann = []
shp = []
lay = {}
black = "#111111"
tickfont = dict(family=FONT, size=FS, color=black)

for p, cfg in enumerate(cfgs):
    L, R, B = p + 1, p + 7, p + 13
    xL, yL, xR, yR, yB = "x" + sfx(L), "y" + sfx(L), "x" + sfx(R), "y" + sfx(R), "y" + sfx(B)
    series = [np.asarray(s, float) for s in panel_series[p]]
    xs = panel_x[p]

    # ---- left: trajectories ----
    for i in cfg["order"]:
        fig.add_trace(go.Scatter(x=xs, y=series[i], mode="lines", line=dict(color=line_colors[i], width=1.2),
                                 xaxis=xL, yaxis=yL, showlegend=False, hoverinfo="skip"))

    # ---- right: violins ----
    for i in range(5):
        v = series[i]
        bw = silverman(v)
        fig.add_trace(go.Violin(x=[i] * len(v), y=v, xaxis=xR, yaxis=yR, width=VW, bandwidth=bw,
                                spanmode="hard", scalemode="width", points=False,
                                line=dict(color=violin_colors[i], width=2.6),
                                fillcolor="rgba(255,255,255,0)", showlegend=False, hoverinfo="skip",
                                box=dict(visible=False), meanline=dict(visible=False)))
        lo, hi = v.min(), v.max()
        n = int(np.ceil((hi - lo) / (bw / 3)))
        grid = np.linspace(lo, hi, n + 1)
        kmax = kde(v, grid, bw).max()
        q1, med, q3 = np.percentile(v, [25, 50, 75])
        for q, dash, col in [(q1, "2px,2px", "#a0a0a0"), (med, "4px,2px", "#7a7a7a"), (q3, "2px,2px", "#a0a0a0")]:
            half = VW / 2 * kde(v, [q], bw)[0] / kmax - 0.03
            fig.add_trace(go.Scatter(x=[i - half, i + half], y=[q, q], mode="lines",
                                     line=dict(color=col, width=1.1, dash=dash),
                                     xaxis=xR, yaxis=yR, showlegend=False, hoverinfo="skip"))

    # ---- brackets ----
    rt, rb = cfg["ry"]
    r0, r1 = cfg["rrange"]
    k = (rb - rt) / (r1 - r0)
    bt = max(0, min(cfg["levels"]) - 16)

    def val(px):
        return r0 + (rb - px) / k

    gap = 5 / k
    for j in range(1, 5):
        lev = val(cfg["levels"][j - 1])
        rbot = min(series[j].max() + gap, lev - 3 / k)
        lbot = min(series[0].max() + gap, lev - 3 / k) if j == 1 else lev - 10 / k
        fig.add_trace(go.Scatter(x=[0, 0, j, j], y=[lbot, lev, lev, rbot], mode="lines",
                                 line=dict(color=black, width=1.6), xaxis=xR, yaxis=yB,
                                 showlegend=False, hoverinfo="skip"))
        ann.append(dict(x=cfg["label_x"][j - 1], y=lev, xref=xR, yref=yB, text=panel_p[p][j - 1],
                        showarrow=False, xanchor="center", yanchor="bottom", yshift=-2,
                        font=dict(family=FONT, size=FS, color=black)))

    # ---- category labels under violins (two lines) ----
    for i in range(5):
        for txt, dy in ((group_line1[i], cfg["cat_dy"][0]), (group_line2[i], cfg["cat_dy"][1])):
            ann.append(dict(x=i, y=fy(rb + dy), xref=xR, yref="paper", text=txt, showarrow=False,
                            xanchor="center", yanchor="middle", font=dict(family=FONT, size=FS, color=black)))

    # ---- axes ----
    lx0, lx1 = cfg["lx"]
    xl = dict(domain=[fx(lx0), fx(lx1)], anchor=yL, showline=True, linewidth=2.5, linecolor=black,
              ticks="outside", ticklen=5, tickwidth=2, tickcolor=black, showgrid=False, zeroline=False,
              tickfont=tickfont, automargin=False)
    if p == 1:
        xl.update(range=[35, 159], tickmode="array", tickvals=residue_tick_no, ticktext=residue_tick_labels,
                  tickangle=-90, tickfont=dict(family=FONT, size=7, color=black), ticklen=3, tickwidth=1)
    else:
        xl.update(range=[0, 100], tick0=0, dtick=10,
                  minor=dict(dtick=2, ticklen=3, tickwidth=2, ticks="outside", tickcolor=black, showgrid=False))
    lay["xaxis" + sfx(L)] = xl
    lay["yaxis" + sfx(L)] = dict(domain=ydom(*cfg["ly"]), range=cfg["lrange"], anchor=xL, showline=True,
                                 linewidth=3, linecolor=black, ticks="outside", ticklen=5, tickwidth=2,
                                 tickcolor=black, tick0=cfg["lrange"][0], dtick=cfg["ldtick"],
                                 tickformat=cfg["lfmt"], showgrid=False, zeroline=False, tickfont=tickfont,
                                 automargin=False)
    lay["xaxis" + sfx(R)] = dict(domain=[fx(RX[0]), fx(RX[1])], range=XR_RANGE, anchor=yR, showline=True,
                                 linewidth=2.2, linecolor=black, ticks="outside", ticklen=5, tickwidth=2,
                                 tickcolor=black, tickmode="array", tickvals=list(range(5)),
                                 showticklabels=False, showgrid=False, zeroline=False, automargin=False)
    lay["yaxis" + sfx(R)] = dict(domain=ydom(rt, rb), range=cfg["rrange"], anchor=xR, showline=True,
                                 linewidth=2.2, linecolor=black, ticks="outside", ticklen=5, tickwidth=2,
                                 tickcolor=black, tickmode="array", tickvals=cfg["rticks"],
                                 tickformat=cfg["rfmt"], showgrid=False, zeroline=False, tickfont=tickfont,
                                 automargin=False)
    lay["yaxis" + sfx(B)] = dict(domain=ydom(bt, rb), range=[r0, val(bt)], anchor=xR, visible=False,
                                 showgrid=False, zeroline=False, automargin=False)

    # ---- legend (symbol above two-line label) ----
    for i in range(5):
        cx = cfg["leg_x"][i]
        shp.append(dict(type="line", xref="paper", yref="paper", x0=fx(cx - 5), x1=fx(cx + 5),
                        y0=fy(cfg["leg_line_y"]), y1=fy(cfg["leg_line_y"]),
                        line=dict(color=line_colors[i], width=3)))
        for txt, ty in ((group_line1[i], cfg["leg_text_y"][0]), (group_line2[i], cfg["leg_text_y"][1])):
            ann.append(dict(x=fx(cx), y=fy(ty), xref="paper", yref="paper", text=txt, showarrow=False,
                            xanchor="center", yanchor="middle", font=dict(family=FONT, size=FS, color=black)))

    # ---- titles & panel letter ----
    ann.append(dict(x=fx(cfg["letter_xy"][0]), y=fy(cfg["letter_xy"][1]), xref="paper", yref="paper",
                    text="<b>%s</b>" % cfg["letter"], showarrow=False, xanchor="center", yanchor="middle",
                    font=dict(family=FONT, size=20, color="#000")))
    ann.append(dict(x=fx(cfg["xtitle_xy"][0]), y=fy(cfg["xtitle_xy"][1]), xref="paper", yref="paper",
                    text=cfg["xtitle"], showarrow=False, xanchor="center", yanchor="middle",
                    font=dict(family=FONT, size=FS, color=black)))
    for (tx, ty) in (cfg["yt_l"], cfg["yt_r"]):
        ann.append(dict(x=fx(tx), y=fy(ty), xref="paper", yref="paper", text=cfg["ytitle"], textangle=-90,
                        showarrow=False, xanchor="center", yanchor="middle",
                        font=dict(family=FONT, size=FS, color=black)))

fig.update_layout(width=W, height=H, margin=dict(l=0, r=0, t=0, b=0), paper_bgcolor="white",
                  plot_bgcolor="rgba(0,0,0,0)", violinmode="overlay", showlegend=False,
                  font=dict(family=FONT, size=FS, color=black), annotations=ann, shapes=shp, **lay)

fig.write_html("out.html")
